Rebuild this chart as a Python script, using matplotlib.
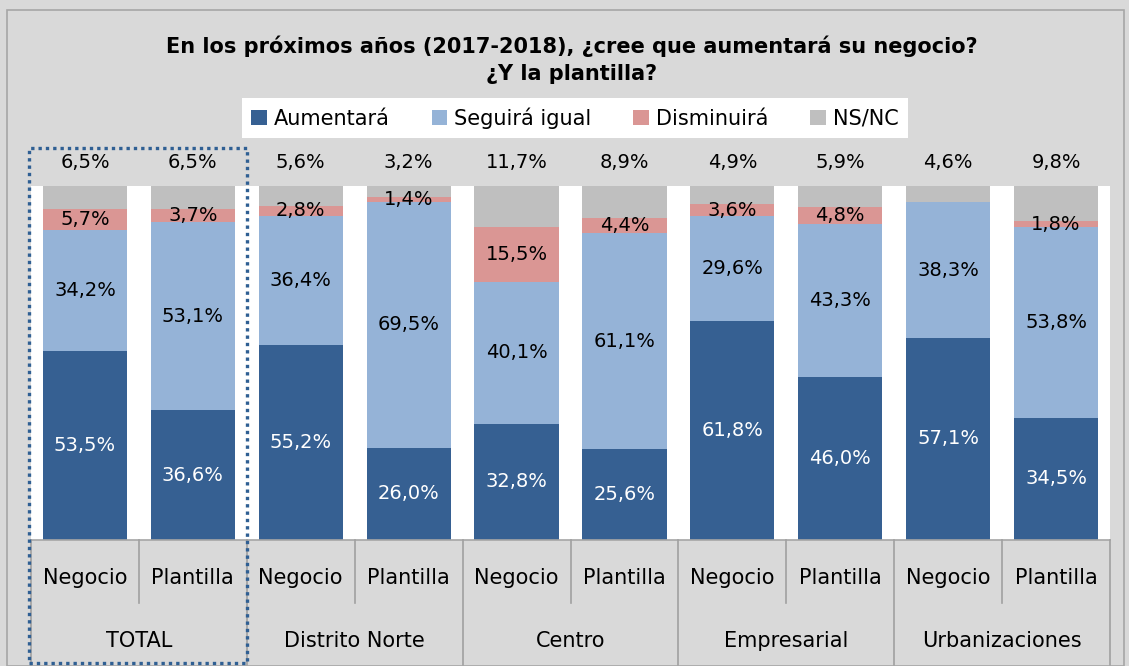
import matplotlib
matplotlib.use("Agg")
import matplotlib.pyplot as plt
from matplotlib.patches import Patch, Rectangle
import numpy as np

plt.rcParams['font.family'] = ['DejaVu Sans']

groups = ["TOTAL", "Distrito Norte", "Centro", "Empresarial", "Urbanizaciones"]
subcats = ["Negocio", "Plantilla"]
series_names = ["Aumentará", "Seguirá igual", "Disminuirá", "NS/NC"]
aumentara = [53.5, 36.6, 55.2, 26.0, 32.8, 25.6, 61.8, 46.0, 57.1, 34.5]
seguira = [34.2, 53.1, 36.4, 69.5, 40.1, 61.1, 29.6, 43.3, 38.3, 53.8]
disminuira = [5.7, 3.7, 2.8, 1.4, 15.5, 4.4, 3.6, 4.8, 0.0, 1.8]
nsnc = [6.5, 6.5, 5.6, 3.2, 11.7, 8.9, 4.9, 5.9, 4.6, 9.8]
title = "En los próximos años (2017-2018), ¿cree que aumentará su negocio?\n¿Y la plantilla?"

colors = ["#366092", "#95B3D7", "#DA9694", "#BFBFBF"]
W, H = 1129, 666
fig = plt.figure(figsize=(W / 100, H / 100), dpi=100)
fig.patch.set_facecolor("#D9D9D9")

def fx(x):
    return x / W

def fy(y):
    return 1 - y / H

# outer border
fig.patches.append(Rectangle((fx(7), fy(666)), fx(1124) - fx(7), fy(10) - fy(666),
                             transform=fig.transFigure, fill=False, edgecolor="#A6A6A6", lw=1.2))

L, R, T, B = 31, 1110, 186, 540
ax = fig.add_axes([fx(L), fy(B), fx(R) - fx(L), fy(T) - fy(B)])
ax.set_facecolor("white")
for s in ax.spines.values():
    s.set_visible(False)
ax.set_xlim(-0.5, 9.5)
ax.set_ylim(0, 100)
ax.set_xticks([])
ax.set_yticks([])

x = np.arange(10)
data = [aumentara, seguira, disminuira, nsnc]
bottom = np.zeros(10)
bw = 0.78
for k, (vals, c) in enumerate(zip(data, colors)):
    vals = np.array(vals)
    ax.bar(x, vals, bw, bottom=bottom, color=c, edgecolor="none", zorder=2)
    for i in range(10):
        if vals[i] <= 0:
            continue
        lab = f"{vals[i]:.1f}%".replace(".", ",")
        if k == 3:
            ax.text(x[i], 106.5, lab, ha="center", va="center", fontsize=14,
                    color="black", clip_on=False)
        else:
            ax.text(x[i], bottom[i] + vals[i] / 2, lab, ha="center", va="center",
                    fontsize=14, color="white" if k == 0 else "black", zorder=3)
    bottom = bottom + vals

# category table below
tr = ax.get_xaxis_transform()
tb = -(666 - B) / (B - T) - 0.05
mid = -(603 - B) / (B - T)
ax.plot([-0.5, 9.5], [0, 0], transform=tr, color="#A6A6A6", lw=1.2, clip_on=False)
for g in range(6):
    xv = -0.5 + 2 * g
    ax.plot([xv, xv], [0, tb], transform=tr, color="#A0A0A0", lw=1.2, clip_on=False)
for g in range(5):
    xv = 0.5 + 2 * g
    ax.plot([xv, xv], [0, mid], transform=tr, color="#A0A0A0", lw=1.2, clip_on=False)
ysub = -(578 - B) / (B - T)
ygrp = -(641 - B) / (B - T)
for i in range(10):
    ax.text(x[i], ysub, subcats[i % 2], transform=tr, ha="center", va="center",
            fontsize=15, color="black", clip_on=False)
for g in range(5):
    ax.text(2 * g + 0.5, ygrp, groups[g], transform=tr, ha="center", va="center",
            fontsize=15, color="black", clip_on=False)

# title
fig.text(fx(572), fy(60), title, ha="center", va="center", fontsize=15,
         fontweight="bold", linespacing=1.45)

# legend
handles = [Patch(facecolor=c, edgecolor="none") for c in colors]
leg = fig.legend(handles, series_names, loc="center", bbox_to_anchor=(fx(575), fy(118)),
                 ncol=4, frameon=True, framealpha=1.0, fontsize=15, handlelength=0.75,
                 handleheight=0.75, handletextpad=0.35, columnspacing=2.0, borderpad=0.45)
leg.get_frame().set_facecolor("white")
leg.get_frame().set_edgecolor("none")
leg.get_frame().set_boxstyle("square", pad=0)

# dotted highlight box around TOTAL
fig.patches.append(Rectangle((fx(29), fy(663)), fx(247) - fx(29), fy(148) - fy(663),
                             transform=fig.transFigure, fill=False, edgecolor="#2F5F93",
                             lw=2.4, linestyle=(0, (1, 1.2)), zorder=10))

fig.savefig("out.png", dpi=100, facecolor=fig.get_facecolor())
